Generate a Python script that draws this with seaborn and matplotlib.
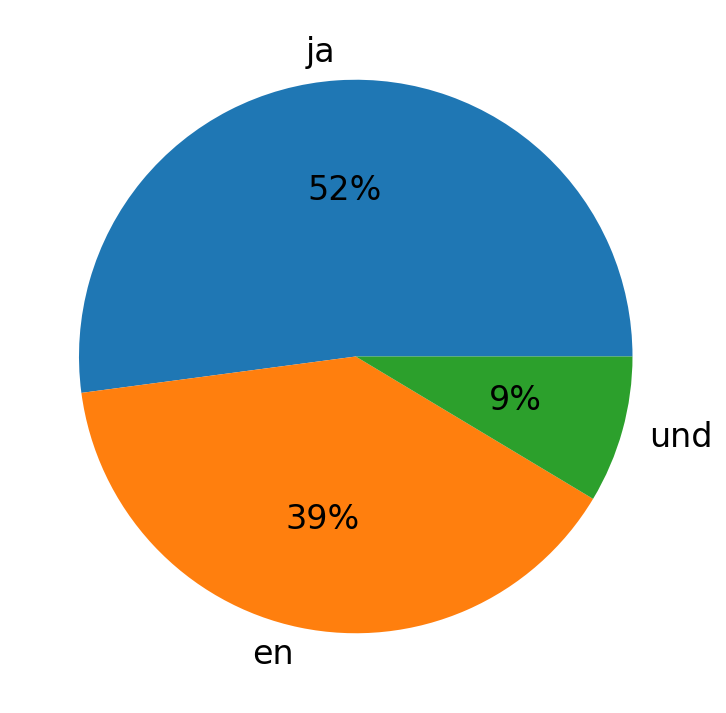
import matplotlib
matplotlib.use("Agg")
import matplotlib.pyplot as plt
import seaborn as sns

labels = ["ja", "en", "und"]
values = [52.1, 39.3, 8.6]

colors = sns.color_palette("tab10", 3)
fig, ax = plt.subplots(figsize=(7.26, 7.13), dpi=100)
ax.pie(values, labels=labels, colors=colors, autopct="%1.0f%%",
       textprops={"fontsize": 24})
ax.set_aspect("equal")
plt.subplots_adjust(left=0.0135, right=0.9665, top=0.9885, bottom=0.0115)
fig.savefig("out.png", dpi=100)
